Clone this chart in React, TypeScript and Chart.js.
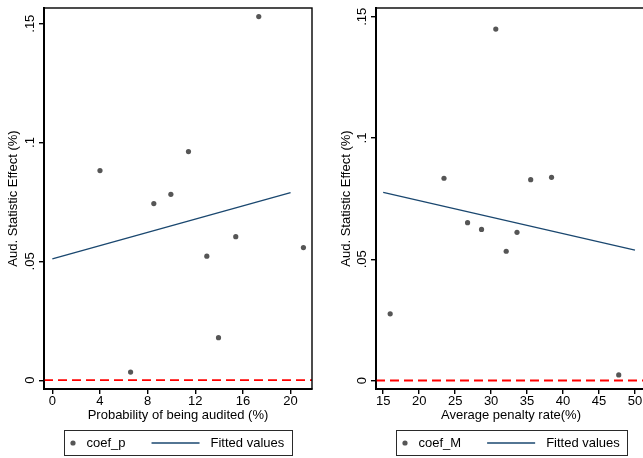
import { useEffect, useRef } from "react";
import { Chart, registerables } from "chart.js";

Chart.register(...registerables);

const FONT = "'Liberation Sans', Arial, Helvetica, sans-serif";
const DOT_COLOR = "#565656";
const FIT_COLOR = "#1a476f";

// ---------- Left panel: probability of being audited ----------
const auditProb = [4.0, 6.57, 8.52, 9.95, 11.43, 12.97, 13.95, 15.4, 17.33, 21.08];
const coefP = [0.0882, 0.0034, 0.0743, 0.0782, 0.0962, 0.0522, 0.0179, 0.0604, 0.153, 0.0558];
const fitAuditX = [0, 20];
const fitAuditY = [0.051, 0.0789];
const auditTicks = [0, 4, 8, 12, 16, 20];
const auditRange = [-0.7, 21.8];

// ---------- Right panel: average penalty rate ----------
const penaltyRate = [15.97, 23.45, 26.73, 28.67, 30.65, 32.1, 33.6, 35.5, 38.4, 47.74];
const coefM = [0.0275, 0.0834, 0.0651, 0.0623, 0.1449, 0.0533, 0.0611, 0.0828, 0.0838, 0.0023];
const fitPenaltyX = [15, 50];
const fitPenaltyY = [0.0776, 0.0538];
const penaltyTicks = [15, 20, 25, 30, 35, 40, 45, 50];
const penaltyRange = [14.0, 51.53];

// ---------- Shared y axis ----------
const effectTicks = [0, 0.05, 0.1, 0.15];
const effectTickLabels = ["0", ".05", ".1", ".15"];
const yTitle = "Aud. Statistic Effect (%)";

type Spec = {
  xs: number[];
  ys: number[];
  fitX: number[];
  fitY: number[];
  xTicks: number[];
  xRange: number[];
  yRange: number[];
  xTitle: string;
  seriesName: string;
  canvasW: number;
  pad: { left: number; top: number; right: number; bottom: number };
  yWidth: number;
};

const leftSpec: Spec = {
  xs: auditProb,
  ys: coefP,
  fitX: fitAuditX,
  fitY: fitAuditY,
  xTicks: auditTicks,
  xRange: auditRange,
  yRange: [-0.0037, 0.1566],
  xTitle: "Probability of being audited (%)",
  seriesName: "coef_p",
  canvasW: 320,
  pad: { left: 0, top: 8, right: 8, bottom: 35 },
  yWidth: 44,
};

const rightSpec: Spec = {
  xs: penaltyRate,
  ys: coefM,
  fitX: fitPenaltyX,
  fitY: fitPenaltyY,
  xTicks: penaltyTicks,
  xRange: penaltyRange,
  yRange: [-0.0035, 0.1536],
  xTitle: "Average penalty rate(%)",
  seriesName: "coef_M",
  canvasW: 330,
  pad: { left: 13, top: 8, right: 3, bottom: 35 },
  yWidth: 43,
};

function makePlugin(spec: Spec) {
  return {
    id: "stataDecor",
    afterDraw(chart: any) {
      const { ctx, chartArea: a, scales } = chart;
      ctx.save();
      // frame around plot region
      ctx.strokeStyle = "#000";
      ctx.lineWidth = 1.4;
      ctx.strokeRect(a.left, a.top, a.right - a.left, a.bottom - a.top);

      // rotated y tick labels
      ctx.font = `13px ${FONT}`;
      ctx.fillStyle = "#000";
      ctx.textAlign = "center";
      ctx.textBaseline = "alphabetic";
      effectTicks.forEach((v, i) => {
        const py = scales.y.getPixelForValue(v);
        ctx.save();
        ctx.translate(a.left - 10, py);
        ctx.rotate(-Math.PI / 2);
        ctx.fillText(effectTickLabels[i], 0, 0);
        ctx.restore();
      });

      // boxed legend
      const lab1 = spec.seriesName;
      const lab2 = "Fitted values";
      const w1 = ctx.measureText(lab1).width;
      const w2 = ctx.measureText(lab2).width;
      const boxW = Math.round(115 + w1 + w2);
      const boxH = 25;
      const cx = (a.left + a.right) / 2;
      const bx = Math.round(cx - boxW / 2) + 0.5;
      const by = 430.5;
      ctx.strokeStyle = "#2a2a2a";
      ctx.lineWidth = 1;
      ctx.strokeRect(bx, by, boxW, boxH);
      const my = by + boxH / 2;
      ctx.fillStyle = DOT_COLOR;
      ctx.beginPath();
      ctx.arc(bx + 8.5, my, 2.6, 0, Math.PI * 2);
      ctx.fill();
      ctx.fillStyle = "#000";
      ctx.textAlign = "left";
      ctx.textBaseline = "middle";
      ctx.fillText(lab1, bx + 22, my);
      const lx = bx + 22 + w1 + 26;
      ctx.strokeStyle = FIT_COLOR;
      ctx.lineWidth = 1.3;
      ctx.beginPath();
      ctx.moveTo(lx, my);
      ctx.lineTo(lx + 48, my);
      ctx.stroke();
      ctx.fillStyle = "#000";
      ctx.fillText(lab2, lx + 48 + 11, my);
      ctx.restore();
    },
  };
}

function Panel({ spec }: { spec: Spec }) {
  const ref = useRef<HTMLCanvasElement | null>(null);
  useEffect(() => {
    if (!ref.current) return;
    const points = spec.xs.map((x, i) => ({ x, y: spec.ys[i] }));
    const fit = spec.fitX.map((x, i) => ({ x, y: spec.fitY[i] }));
    const zero = spec.xRange.map((x) => ({ x, y: 0 }));
    const chart = new Chart(ref.current, {
      type: "scatter",
      data: {
        datasets: [
          {
            type: "scatter",
            label: spec.seriesName,
            data: points,
            pointRadius: 2.6,
            pointBackgroundColor: DOT_COLOR,
            pointBorderWidth: 0,
            order: 0,
          },
          {
            type: "line",
            label: "Fitted values",
            data: fit,
            borderColor: FIT_COLOR,
            borderWidth: 1.3,
            pointRadius: 0,
            fill: false,
            order: 1,
          },
          {
            type: "line",
            label: "zero",
            data: zero,
            borderColor: "#ff0000",
            borderWidth: 1.8,
            borderDash: [9, 5],
            pointRadius: 0,
            fill: false,
            order: 2,
          },
        ] as any,
      },
      options: {
        responsive: false,
        animation: false,
        devicePixelRatio: 1,
        layout: { padding: spec.pad },
        plugins: {
          legend: { display: false },
          tooltip: { enabled: false },
        },
        scales: {
          x: {
            type: "linear",
            min: spec.xRange[0],
            max: spec.xRange[1],
            afterBuildTicks: (s: any) => {
              s.ticks = spec.xTicks.map((v) => ({ value: v }));
            },
            afterFit: (s: any) => {
              s.height = 34;
            },
            ticks: {
              color: "#000",
              padding: 0,
              maxRotation: 0,
              autoSkip: false,
              font: { family: FONT, size: 13 },
              callback: (v: any) => String(v),
            },
            grid: {
              display: true,
              drawOnChartArea: false,
              drawTicks: true,
              tickLength: 5,
              color: "#000",
              lineWidth: 1.4,
            },
            border: { display: true, color: "#000", width: 2 },
            title: {
              display: true,
              text: spec.xTitle,
              color: "#000",
              font: { family: FONT, size: 13 },
              padding: { top: 0, bottom: 0 },
            },
          },
          y: {
            type: "linear",
            min: spec.yRange[0],
            max: spec.yRange[1],
            afterBuildTicks: (s: any) => {
              s.ticks = effectTicks.map((v) => ({ value: v }));
            },
            afterFit: (s: any) => {
              s.width = spec.yWidth;
            },
            ticks: { display: false },
            grid: {
              display: true,
              drawOnChartArea: false,
              drawTicks: true,
              tickLength: 5,
              color: "#000",
              lineWidth: 1.4,
            },
            border: { display: true, color: "#000", width: 2 },
            title: {
              display: true,
              text: yTitle,
              color: "#000",
              font: { family: FONT, size: 13 },
              padding: { top: 6, bottom: 0 },
            },
          },
        },
      },
      plugins: [makePlugin(spec)],
    });
    return () => chart.destroy();
  }, [spec]);
  return <canvas ref={ref} width={spec.canvasW} height={458} style={{ display: "block" }} />;
}

export default function App() {
  return (
    <div
      style={{
        position: "fixed",
        left: 0,
        top: 0,
        width: 643,
        height: 458,
        overflow: "hidden",
        background: "#fff",
      }}
    >
      <div style={{ position: "absolute", left: 0, top: 0, width: 320, height: 458, overflow: "hidden" }}>
        <Panel spec={leftSpec} />
      </div>
      <div style={{ position: "absolute", left: 320, top: 0, width: 323, height: 458, overflow: "hidden" }}>
        <Panel spec={rightSpec} />
      </div>
    </div>
  );
}
